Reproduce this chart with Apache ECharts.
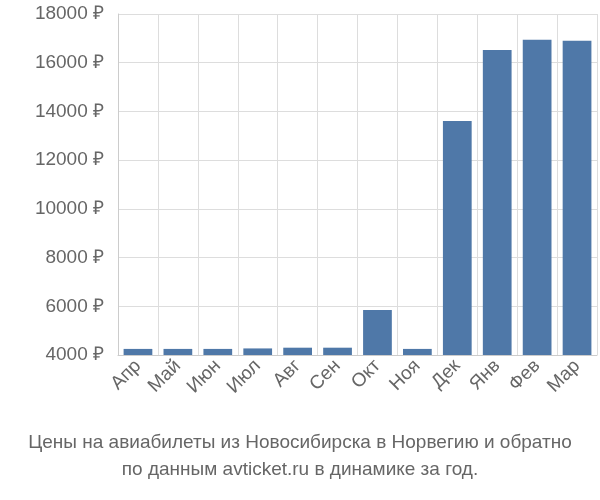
<!DOCTYPE html>
<html><head><meta charset="utf-8">
<script src="https://cdn.jsdelivr.net/npm/echarts@6/dist/echarts.min.js"></script>
<style>html,body{margin:0;padding:0;background:#fff}#c{width:600px;height:500px}</style>
</head><body><div id="c"></div>
<script>
const categories = ["Апр","Май","Июн","Июл","Авг","Сен","Окт","Ноя","Дек","Янв","Фев","Мар"];
const prices = [4250,4250,4250,4270,4300,4300,5850,4250,13610,16520,16940,16900];
const titleLines = ["Цены на авиабилеты из Новосибирска в Норвегию и обратно","по данным avticket.ru в динамике за год."];
const chart = echarts.init(document.getElementById('c'));
chart.setOption({
  animation:false,
  grid:{left:118,right:3,top:14,bottom:145},
  title:{text:titleLines.join('\n'),left:'center',bottom:12,
    textStyle:{color:'#666',fontSize:19,fontWeight:'normal',fontFamily:'Liberation Sans',lineHeight:27}},
  xAxis:{type:'category',data:categories,
    axisLine:{lineStyle:{color:'#ccc'}},axisTick:{show:false},
    splitLine:{show:true,lineStyle:{color:'#ddd'}},
    axisLabel:{rotate:45,color:'#666',fontSize:19,fontFamily:'Liberation Sans',margin:8}},
  yAxis:{type:'value',min:4000,max:18000,interval:2000,
    axisLine:{show:true,lineStyle:{color:'#ccc'}},
    splitLine:{lineStyle:{color:'#ddd'}},
    axisLabel:{color:'#666',fontSize:19,fontFamily:'Liberation Sans',formatter:v=>v+' ₽',margin:14}},
  series:[{type:'bar',data:prices,barWidth:'72%',itemStyle:{color:'#4f78a8'}}]
});
</script></body></html>
